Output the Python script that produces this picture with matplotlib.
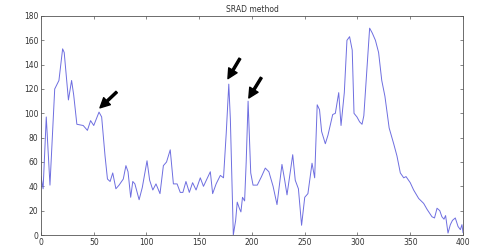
import matplotlib
matplotlib.use("Agg")
import matplotlib.pyplot as plt

x_vals = [0, 2, 5, 8.5, 13, 17, 20.5, 22, 26, 29, 31, 34, 40, 44, 47, 50, 55, 57.5,
          60.7, 63, 65.5, 68, 71, 74, 78, 80.5, 82.5, 85, 87, 89, 93, 96, 100.5, 103,
          106, 109, 112.8, 116, 119, 122.5, 125.5, 129, 132, 134.5, 137.4, 140.6,
          143.7, 147, 151, 154, 157.3, 160.5, 162.7, 166, 170, 173, 175.6, 178, 179.5,
          182.3, 184.5, 186, 188, 189.5, 191, 193, 194.5, 196.3, 198.8, 201, 205, 209,
          212.6, 216, 220, 223.7, 228.4, 231, 233.2, 236, 238.6, 241, 244, 247, 250,
          253, 256.9, 259.4, 261.8, 264, 266, 269.5, 272, 276.5, 279, 282.2, 284.4,
          287.5, 290, 292.5, 295, 296.7, 299.5, 302, 304.3, 306, 309, 311.5, 314, 317,
          320, 323, 326, 330, 334.3, 337.4, 340.6, 343.8, 346, 350, 353.2, 358, 362.7,
          366, 370.6, 373, 375.4, 378, 380, 382, 383.5, 385.8, 388, 390, 392.7, 395.3,
          397.5, 399, 400]
y_vals = [48, 38, 97, 41, 120, 127, 153, 150, 111, 127, 115, 91, 90, 86, 94, 90, 101, 97,
          65, 46, 44, 51, 38, 41, 46, 57, 52, 31, 44, 42, 29, 39, 61, 45,
          37, 42, 34, 57, 60, 70, 42, 42, 35, 35, 44, 35,
          43, 37, 47, 40, 46, 52, 34, 42, 49, 47, 84, 124, 95,
          0, 12, 27, 22, 19, 31, 28, 60, 110, 51, 41, 41, 48,
          55, 52, 40, 25, 58, 45, 33, 50, 66, 45, 38, 8, 31,
          34, 59, 47, 107, 103, 85, 75, 82, 99, 100, 117, 90,
          117, 160, 163, 152, 100, 97, 93, 91, 98, 138, 170, 166, 160,
          150, 127, 114, 88, 75, 65, 51, 47, 48, 43, 37, 30, 26,
          21, 15, 14, 22, 20, 15, 13, 16, 1.6, 8.5, 12, 14, 7,
          4.4, 8.5, 2]

x_ticks = [0, 50, 100, 150, 200, 250, 300, 350, 400]
y_ticks = [0, 20, 40, 60, 80, 100, 120, 140, 160, 180]
title = "SRAD method"

# arrows: (tip_x, tip_y, tail_x, tail_y)
arrow_tips = [(55.9, 104.5), (177.2, 128.5), (197.0, 112.6)]
arrow_tails = [(71.7, 117.5), (188.5, 145.0), (208.8, 129.3)]

fig = plt.figure(figsize=(4.84, 2.46), dpi=100)
ax = fig.add_axes([0.0847, 0.0447, 0.8719, 0.8903])
ax.plot(x_vals, y_vals, color="#6e6ee0", linewidth=0.7)
ax.set_xlim(0, 400)
ax.set_ylim(0, 180)
ax.set_xticks(x_ticks)
ax.set_yticks(y_ticks)
ax.tick_params(direction="in", length=2.5, width=0.5, labelsize=5.5,
               top=True, right=True, colors="#555555", labelcolor="#333333", pad=2)
for s in ax.spines.values():
    s.set_linewidth(0.6)
    s.set_color("#555555")
ax.set_title(title, fontsize=5.5, color="#333333", pad=3)

for tip, tail in zip(arrow_tips, arrow_tails):
    ax.annotate("", xy=tip, xytext=tail,
                arrowprops=dict(facecolor="black", edgecolor="black",
                                width=1.5, headwidth=7, headlength=7, shrink=0))

fig.savefig("out.png", dpi=100)
